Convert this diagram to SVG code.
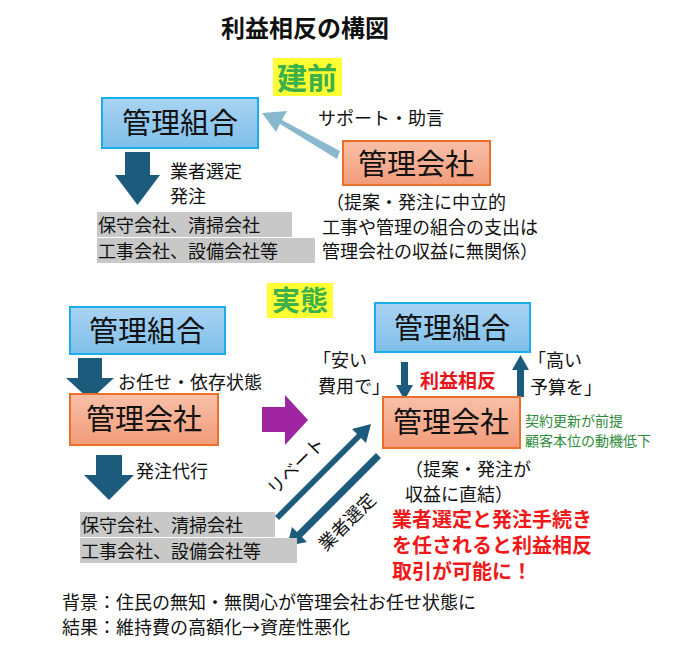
<svg xmlns="http://www.w3.org/2000/svg" width="696" height="646" viewBox="0 0 696 646">
<defs>
<linearGradient id="gb" x1="0" y1="0" x2="0" y2="1"><stop offset="0" stop-color="#a9d3f2"/><stop offset="1" stop-color="#7fbfea"/></linearGradient>
<linearGradient id="go" x1="0" y1="0" x2="0" y2="1"><stop offset="0" stop-color="#f8c0a8"/><stop offset="1" stop-color="#f29b7a"/></linearGradient>
</defs>
<style>
text{font-family:"Noto Sans CJK JP","Noto Sans CJK SC",sans-serif;fill:#111}
.blue{fill:url(#gb);stroke:#19aeea;stroke-width:2}
.org{fill:url(#go);stroke:#e9702a;stroke-width:2}
.box{font-size:29px}
.t{font-size:18px}
.gray{fill:#c8c8c8}
.dk{fill:#1d5b7c}
</style>
<rect width="696" height="646" fill="#fff"/>
<text x="305" y="37" text-anchor="middle" font-size="24" font-weight="bold">利益相反の構図</text>
<rect x="273" y="58" width="69" height="38" fill="#ffff33"/>
<text x="307" y="89" text-anchor="middle" font-size="30" font-weight="bold" style="fill:#3cb04a">建前</text>
<rect x="267" y="283" width="66" height="35" fill="#ffff33"/>
<text x="300" y="311" text-anchor="middle" font-size="28" font-weight="bold" style="fill:#3cb04a">実態</text>

<g id="connectors">
<polygon points="340,151 282,120 287,111 262,113 276,132 280,124 337,159" fill="#8ab8cf"/>
<polygon class="dk" points="125,152 150,152 150,175 160,175 137.5,205 115,175 125,175"/>
<polygon class="dk" points="78,358 102,358 102,378 114,378 90,400 66,378 78,378"/>
<polygon class="dk" points="96,455 122,455 122,475 134,475 109,500 84,475 96,475"/>
<polygon points="262,407 285,407 285,395 308,420 285,445 285,432 262,432" fill="#a0239f"/>
<polygon class="dk" points="401,362 408,362 408,385 413,385 404.5,400 396,385 401,385"/>
<polygon class="dk" points="517,397 524,397 524,370 529,370 520.5,355 512,370 517,370"/>
<polygon class="dk" points="275,516 357,434 352,429 371,424 366,443 361,438 279,520"/>
<polygon class="dk" points="381,458 302,537 307,542 287,546 292,527 297,532 376,453"/>
</g>

<g id="kumiai1"><rect class="blue" x="102" y="98" width="156" height="50"/><text class="box" x="180" y="134" text-anchor="middle">管理組合</text></g>
<g id="kaisha1"><rect class="org" x="343" y="141" width="147" height="44"/><text class="box" x="416" y="175" text-anchor="middle" font-size="28">管理会社</text></g>
<g id="kumiai2"><rect class="blue" x="70" y="307" width="155" height="47"/><text class="box" x="147" y="342" text-anchor="middle">管理組合</text></g>
<g id="kaisha2"><rect class="org" x="70" y="394" width="148" height="51"/><text class="box" x="144" y="430" text-anchor="middle">管理会社</text></g>
<g id="kumiai3"><rect class="blue" x="375" y="303" width="155" height="49"/><text class="box" x="452" y="339" text-anchor="middle">管理組合</text></g>
<g id="kaisha3"><rect class="org" x="383" y="397" width="137" height="51"/><text class="box" x="451" y="433" text-anchor="middle" font-size="28">管理会社</text></g>

<g id="gyosha1">
<rect class="gray" x="97" y="212" width="195" height="25"/><rect class="gray" x="97" y="238" width="218" height="25"/>
<text class="t" x="98" y="232" font-size="19">保守会社、清掃会社</text>
<text class="t" x="98" y="258" font-size="19">工事会社、設備会社等</text>
</g>
<g id="gyosha2">
<rect class="gray" x="80" y="512" width="195" height="25"/><rect class="gray" x="80" y="538" width="217" height="25"/>
<text class="t" x="81" y="532" font-size="19">保守会社、清掃会社</text>
<text class="t" x="81" y="558" font-size="19">工事会社、設備会社等</text>
</g>

<text class="t" x="318" y="125">サポート・助言</text>
<text class="t" x="170" y="178">業者選定</text>
<text class="t" x="170" y="203">発注</text>
<text class="t" x="326" y="209" font-size="19">（提案・発注に中立的</text>
<text class="t" x="322" y="234" font-size="19">工事や管理の組合の支出は</text>
<text class="t" x="322" y="258" font-size="19">管理会社の収益に無関係）</text>

<text class="t" x="118" y="389">お任せ・依存状態</text>
<text class="t" x="136" y="478">発注代行</text>
<text class="t" x="313" y="367">「安い</text>
<text class="t" x="318" y="393">費用で」</text>
<text x="420" y="388" font-size="19" font-weight="bold" style="fill:#e8141b">利益相反</text>
<text class="t" x="528" y="367">「高い</text>
<text class="t" x="530" y="394">予算を」</text>
<text x="525" y="426" font-size="14" style="fill:#2e8b3a">契約更新が前提</text>
<text x="525" y="446" font-size="14" style="fill:#2e8b3a">顧客本位の動機低下</text>
<text class="t" x="405" y="476" font-size="19">（提案・発注が</text>
<text class="t" x="405" y="501" font-size="19">収益に直結）</text>
<text x="392" y="527" font-size="20" font-weight="bold" style="fill:#f01818">業者選定と発注手続き</text>
<text x="392" y="553" font-size="20" font-weight="bold" style="fill:#f01818">を任されると利益相反</text>
<text x="392" y="579" font-size="20" font-weight="bold" style="fill:#f01818">取引が可能に！</text>
<text class="t" transform="translate(275,496) rotate(-45)">リベート</text>
<text class="t" transform="translate(326,552) rotate(-45)">業者選定</text>
<text class="t" x="62" y="609">背景：住民の無知・無関心が管理会社お任せ状態に</text>
<text class="t" x="62" y="634">結果：維持費の高額化→資産性悪化</text>
</svg>
